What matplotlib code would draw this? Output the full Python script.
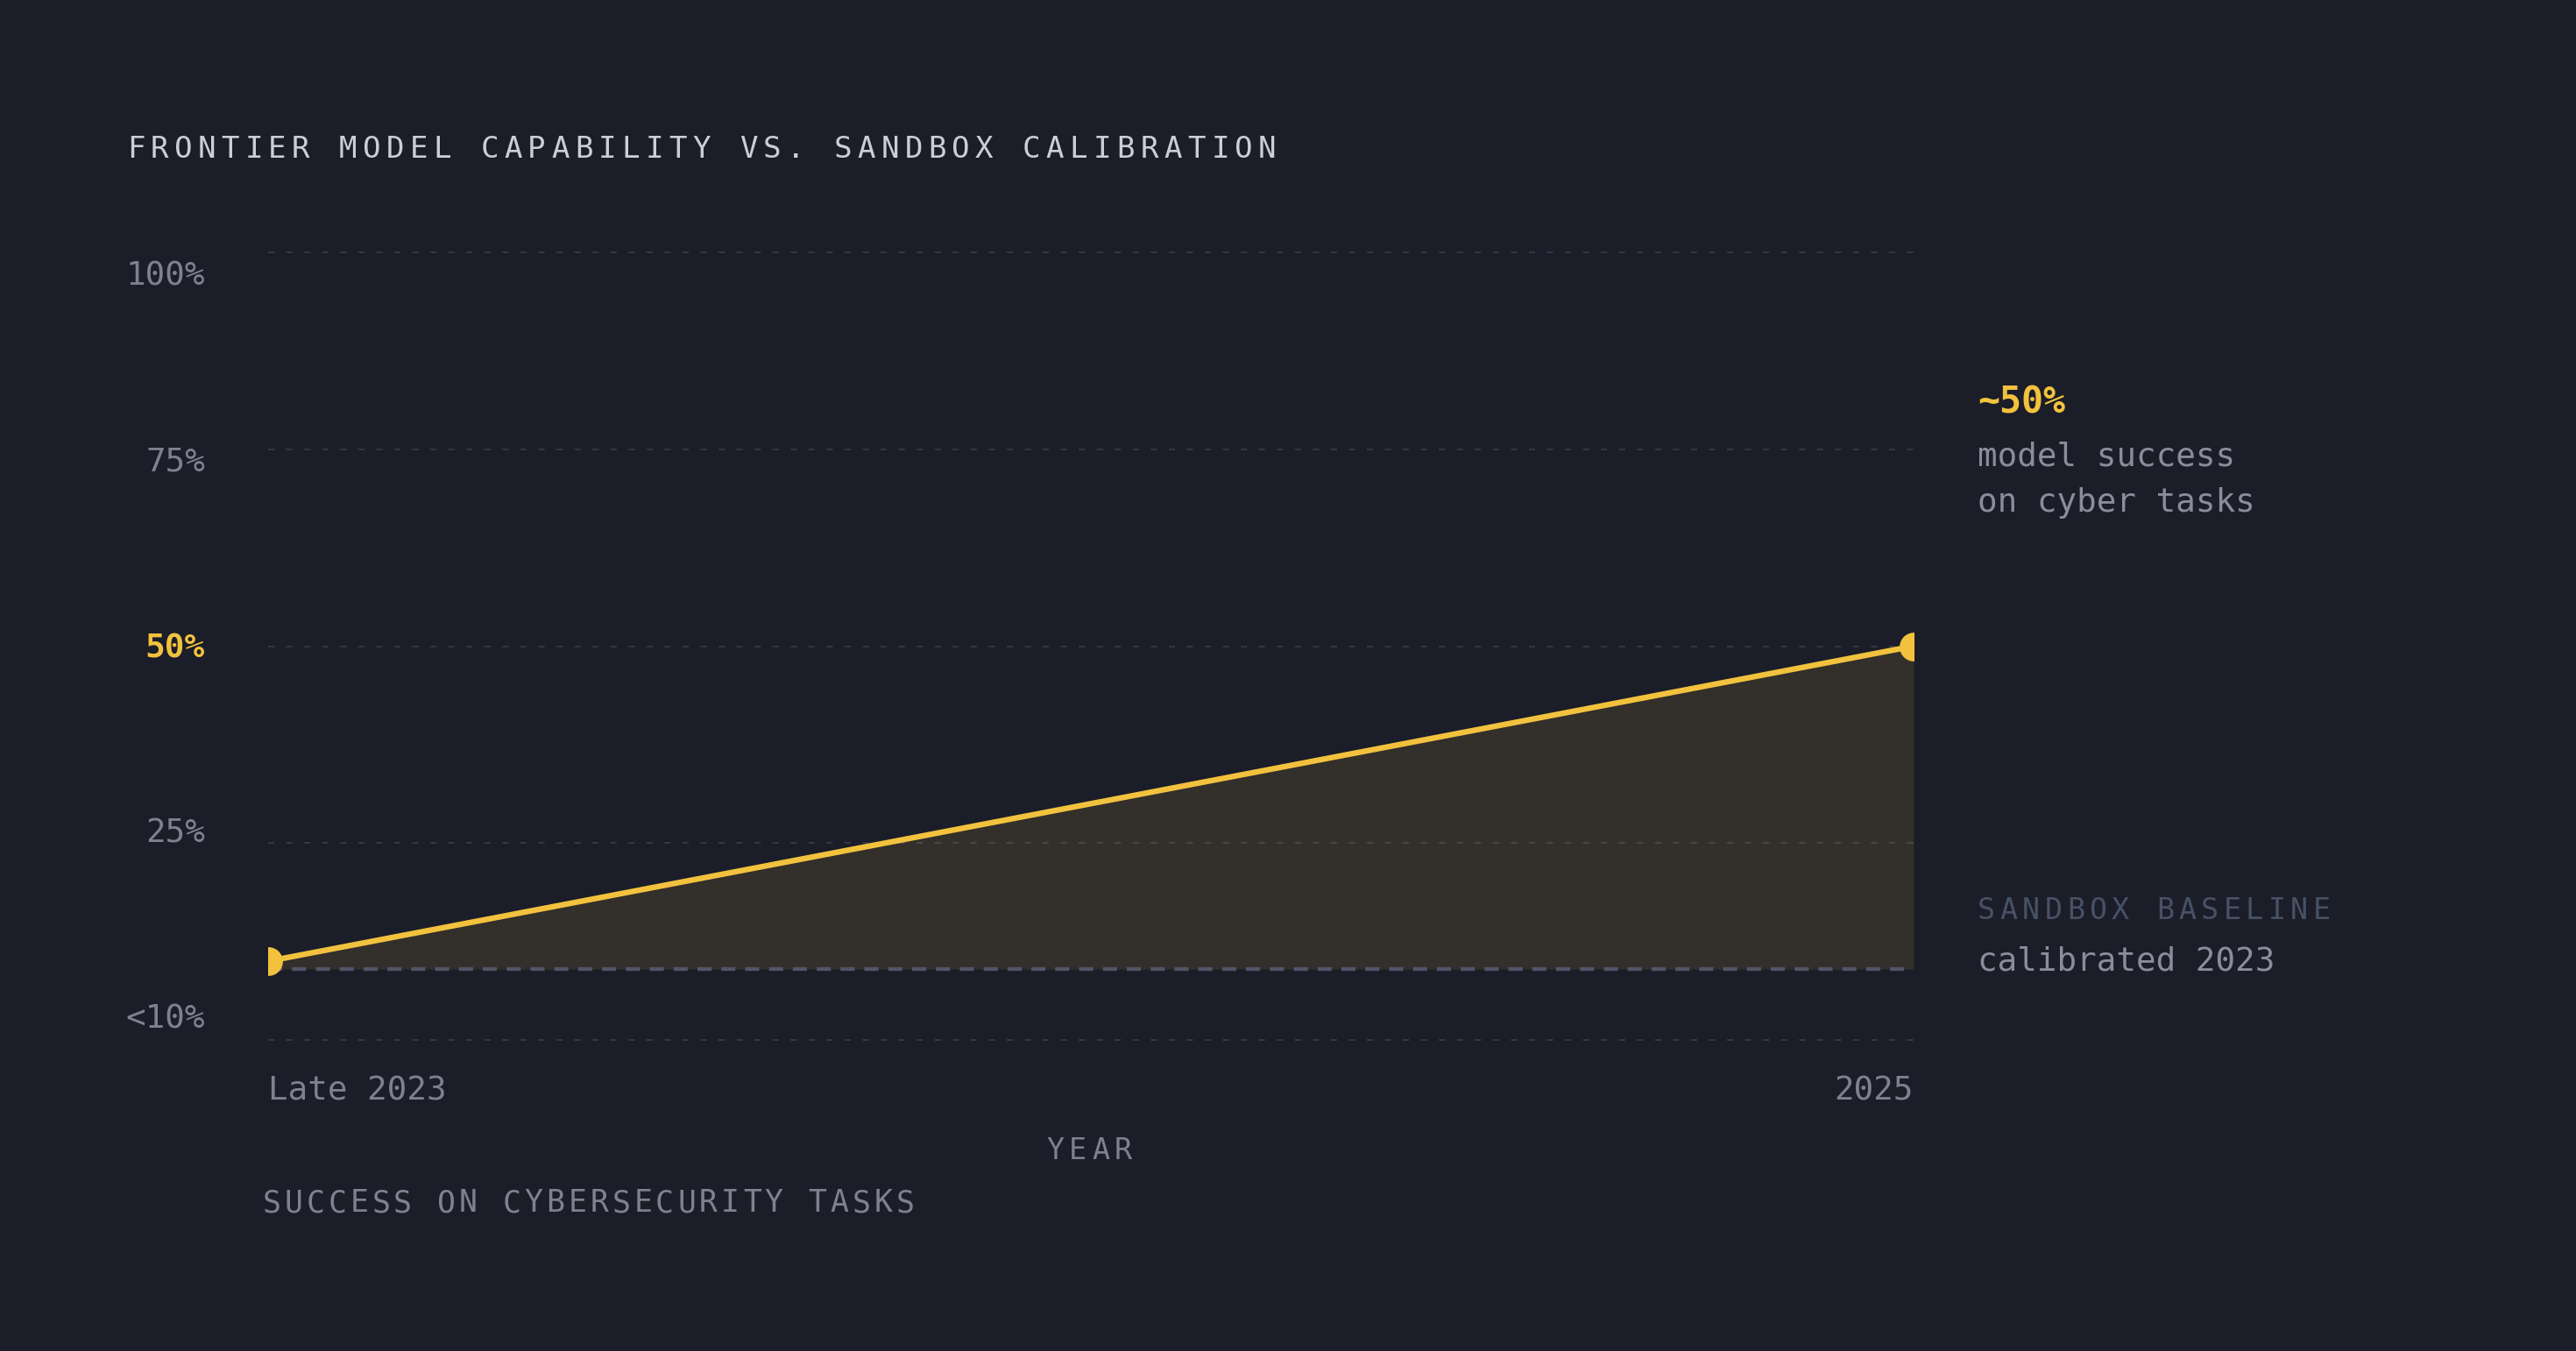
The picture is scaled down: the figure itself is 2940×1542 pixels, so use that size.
import matplotlib
matplotlib.use("Agg")
import matplotlib.pyplot as plt

# ---------------- data ----------------
periods = ["Late 2023", "2025"]
model_success = [10, 50]          # % success on cyber tasks
sandbox_baseline = 9              # calibrated 2023 baseline level
grid_levels = [0, 25, 50, 75, 100]
y_tick_labels = ["100%", "75%", "50%", "25%", "<10%"]
highlight_label = "50%"

title_text = "FRONTIER MODEL CAPABILITY VS. SANDBOX CALIBRATION"
x_axis_title = "YEAR"
y_axis_title = "SUCCESS ON CYBERSECURITY TASKS"
callout_value = "~50%"
callout_lines = ["model success", "on cyber tasks"]
baseline_title = "SANDBOX BASELINE"
baseline_note = "calibrated 2023"

# ---------------- style ----------------
W, H, DPI = 2940, 1542, 200
BG = "#1b1d28"
YELLOW = "#f2c23e"
TITLE_C = "#cbcdd8"
TICK_C = "#7e818f"
NOTE_C = "#8a8d9a"
SLATE = "#475166"
GRID_C = "#3c404d"
BASE_C = "#505666"
MONO = "DejaVu Sans Mono"
plt.rcParams["lines.scale_dashes"] = False

fig = plt.figure(figsize=(W / DPI, H / DPI), dpi=DPI, facecolor=BG)


def fx(px):
    return px / W


def fy(py):
    return 1 - py / H


def spaced(x_first_center, y_base, s, adv, size, color, weight="normal"):
    """Draw letter-spaced monospace text, one glyph per cell."""
    for i, ch in enumerate(s):
        if ch == " ":
            continue
        fig.text(fx(x_first_center + i * adv), fy(y_base), ch, ha="center",
                 va="baseline", fontsize=size, color=color, family=MONO,
                 fontweight=weight)


# plot area
ax_l, ax_r, ax_t, ax_b = 306, 2184, 288, 1187
ax = fig.add_axes([fx(ax_l), fy(ax_b), fx(ax_r - ax_l), (ax_b - ax_t) / H])
ax.set_facecolor(BG)
ax.set_xlim(0, len(periods) - 1)
ax.set_ylim(min(grid_levels), max(grid_levels))
for sp in ax.spines.values():
    sp.set_visible(False)
ax.set_xticks([])
ax.set_yticks([])

xs = list(range(len(periods)))
for g in grid_levels:
    ax.axhline(g, color=GRID_C, lw=0.55, dashes=(2.6, 4.8), zorder=1,
               clip_on=False)

ax.fill_between(xs, sandbox_baseline, model_success, color=YELLOW,
                alpha=0.115, lw=0, zorder=2)
ax.axhline(sandbox_baseline, color=BASE_C, lw=1.55, dashes=(5.8, 4.0),
           zorder=3)
ax.plot(xs, model_success, color=YELLOW, lw=2.3, marker="o", markersize=10.8,
        solid_capstyle="butt", zorder=4)

# title
adv_title = 26.9
spaced(155, 180, title_text, adv_title, 12.3, TITLE_C)

# y labels (independent, evenly spread)
lab_top, lab_step = 326, 212
for i, lab in enumerate(y_tick_labels):
    hl = lab == highlight_label
    fig.text(fx(234), fy(lab_top + i * lab_step), lab, ha="right",
             va="baseline", fontsize=13.6 if hl else 13.5, family=MONO,
             color=YELLOW if hl else TICK_C,
             fontweight="bold" if hl else "normal")

# x labels
fig.text(fx(ax_l), fy(1256), periods[0], ha="left", va="baseline",
         fontsize=13.5, family=MONO, color=TICK_C)
fig.text(fx(ax_r), fy(1256), periods[-1], ha="right", va="baseline",
         fontsize=13.5, family=MONO, color=TICK_C)

# axis titles
adv_year = 26.0
spaced((ax_l + ax_r) / 2 - adv_year * (len(x_axis_title) - 1) / 2 - 2, 1323,
       x_axis_title, adv_year, 12.0, TICK_C)
spaced(310, 1383, y_axis_title, 24.92, 12.5, TICK_C)

# right callouts
fig.text(fx(2257), fy(471), callout_value, ha="left", va="baseline",
         fontsize=15.0, family=MONO, fontweight="bold", color=YELLOW)
for i, line in enumerate(callout_lines):
    fig.text(fx(2257), fy(532 + i * 52), line, ha="left", va="baseline",
             fontsize=13.5, family=MONO, color=NOTE_C)
spaced(2267, 1049, baseline_title, 25.5, 12.0, SLATE)
fig.text(fx(2257), fy(1107), baseline_note, ha="left", va="baseline",
         fontsize=13.5, family=MONO, color=NOTE_C)

fig.savefig("out.png", dpi=DPI, facecolor=BG)
